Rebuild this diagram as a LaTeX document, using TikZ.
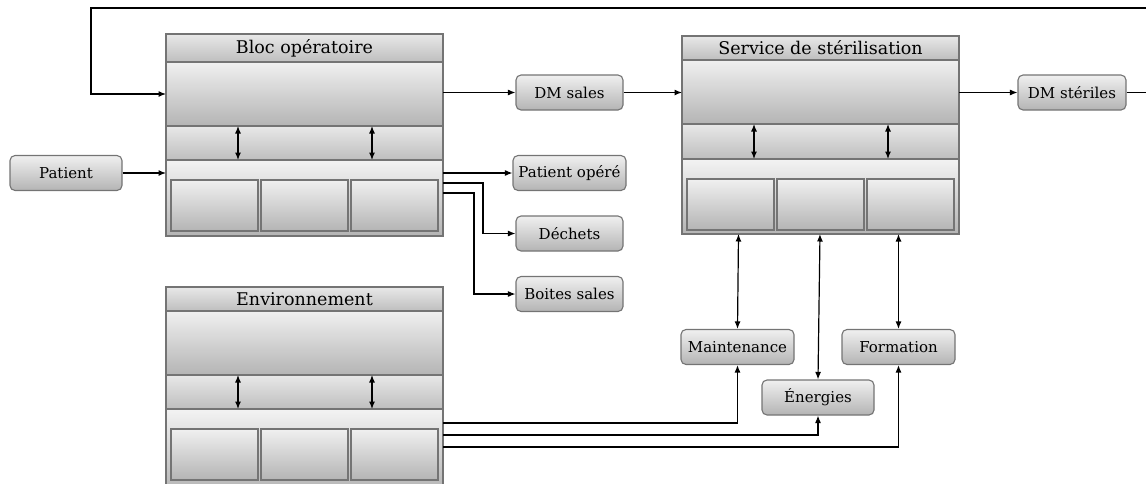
\documentclass[tikz,border=0pt]{standalone}
\usepackage{fontspec}
\setmainfont{DejaVu Serif}
\usetikzlibrary{arrows.meta,calc}
\definecolor{bordc}{HTML}{747474}
\definecolor{gtop}{HTML}{F0F0F0}
\definecolor{gbot}{HTML}{B4B4B4}
\definecolor{ttop}{HTML}{E8E8E8}
\definecolor{tbot}{HTML}{BEBEBE}
\tikzset{
  sect/.style={draw=bordc, line width=1.2pt, top color=gtop, bottom color=gbot, inner sep=0pt, outer sep=0pt, anchor=north west, minimum width=277pt},
  band/.style={sect, top color=ttop, bottom color=tbot},
  titlefont/.style={font=\fontsize{17.5}{20}\selectfont},
  innerbox/.style={draw=bordc, line width=1.1pt, top color=gtop, bottom color=gbot, inner sep=0pt, outer sep=0pt, anchor=north west, minimum width=87pt, minimum height=51pt},
  flowbox/.style={draw=bordc, line width=1.1pt, rounded corners=5pt, top color=gtop, bottom color=gbot, inner sep=0pt, minimum height=35pt, font=\fontsize{15}{18}\selectfont},
  arr/.style={-{Latex[length=7.5pt,width=6pt]}, line width=1.2pt},
  darr/.style={{Latex[length=7.5pt,width=6pt]}-{Latex[length=7.5pt,width=6pt]}, line width=1.2pt},
}
% #1 name, #2 x0, #3 title top, #4 title bottom, #5 upper bottom, #6 mid bottom, #7 lower bottom, #8 inner top, #9 title
\newcommand\sysblock[9]{%
  \pgfmathsetmacro\hA{#4-#3}\pgfmathsetmacro\hB{#5-#4}%
  \pgfmathsetmacro\hC{#6-#5}\pgfmathsetmacro\hD{#7-#6}%
  \node[band, titlefont, minimum height=\hA pt] (#1-title) at (#2,#3) {#9};
  \node[sect, minimum height=\hB pt] (#1-up) at (#2,#4) {};
  \node[band, minimum height=\hC pt] (#1-mid) at (#2,#5) {};
  \node[sect, top color=gtop!80!white, minimum height=\hD pt] (#1-low) at (#2,#6) {};
  \node[innerbox] (#1-b1) at ($(#2,#8)+(5,0)$) {};
  \node[innerbox] (#1-b2) at ($(#2,#8)+(95,0)$) {};
  \node[innerbox] (#1-b3) at ($(#2,#8)+(185,0)$) {};
  \draw[darr] ($(#1-up.south west)+(72,0)$) -- ($(#1-mid.south west)+(72,0)$);
  \draw[darr] ($(#1-up.south west)+(206,0)$) -- ($(#1-mid.south west)+(206,0)$);
}
\begin{document}
\begin{tikzpicture}[x=1pt,y=-1pt]
\useasboundingbox (0,0) rectangle (1146,483);
\sysblock{bloc}{166}{34}{62}{126}{160}{236}{180}{Bloc opératoire}
\sysblock{serv}{682}{36}{60}{124}{159}{234}{179}{Service de stérilisation}
\sysblock{env}{166}{287}{311}{375}{409}{492}{429}{Environnement}

\node[flowbox, minimum width=112pt] (pat) at (66,173) {Patient};
\node[flowbox, minimum width=107pt] (dms) at (569.5,92.5) {DM sales};
\node[flowbox, minimum width=113pt] (pop) at (569.5,173) {Patient opéré};
\node[flowbox, minimum width=107pt] (dech) at (569.5,233.5) {Déchets};
\node[flowbox, minimum width=107pt] (boit) at (569.5,294) {Boites sales};
\node[flowbox, minimum width=108pt] (dmst) at (1072,92.5) {DM stériles};
\node[flowbox, minimum width=113pt] (maint) at (737.5,347) {Maintenance};
\node[flowbox, minimum width=113pt] (form) at (898.5,347) {Formation};
\node[flowbox, minimum width=112pt] (ener) at (818,397.5) {Énergies};

\coordinate (loopR) at (1165,8);
\coordinate (loopL) at (91,8);
\draw[arr] (dmst.east) -| (loopR) -- (loopL) |- (bloc-up.west);
\draw[arr] (dms.west -| bloc-up.east) -- (dms.west);
\draw[arr] (dms.east) -- (dms.east -| serv-up.west);
\draw[arr] (dmst.west -| serv-up.east) -- (dmst.west);
\draw[arr] (pat.east) -- (pat.east -| bloc-low.west);
\draw[arr] (pop.west -| bloc-low.east) -- (pop.west);
\draw[arr] ($(bloc-low.north east)+(0,23)$) -- ++(40,0) |- (dech.west);
\draw[arr] ($(bloc-low.north east)+(0,33)$) -- ++(31,0) |- (boit.west);

\draw[darr] ($(serv-low.south -| maint.north)+(1,0)$) -- (maint.north);
\draw[darr] ($(serv-low.south -| ener.north)+(2,0)$) -- (ener.north);
\draw[darr] (serv-low.south -| form.north) -- (form.north);

\draw[arr] ($(env-low.north east)+(0,14)$) -| (maint.south);
\draw[arr] ($(env-low.north east)+(0,26)$) -| (ener.south);
\draw[arr] ($(env-low.north east)+(0,38)$) -| (form.south);
\end{tikzpicture}
\end{document}
